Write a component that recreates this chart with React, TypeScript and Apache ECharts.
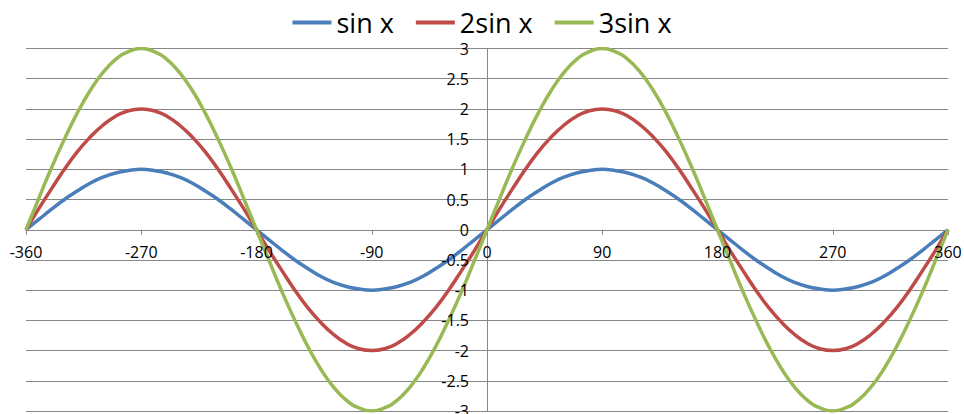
import React, { useEffect, useRef } from "react";
import * as echarts from "echarts";

const xValues = [
  -360, -350, -340, -330, -320, -310, -300, -290, -280, -270, -260, -250,
  -240, -230, -220, -210, -200, -190, -180, -170, -160, -150, -140, -130,
  -120, -110, -100, -90, -80, -70, -60, -50, -40, -30, -20, -10,
  0, 10, 20, 30, 40, 50, 60, 70, 80, 90, 100, 110,
  120, 130, 140, 150, 160, 170, 180, 190, 200, 210, 220, 230,
  240, 250, 260, 270, 280, 290, 300, 310, 320, 330, 340, 350, 360,
];

const sinX = [
  0, 0.17, 0.34, 0.5, 0.64, 0.77, 0.87, 0.94, 0.98, 1, 0.98, 0.94,
  0.87, 0.77, 0.64, 0.5, 0.34, 0.17, 0, -0.17, -0.34, -0.5, -0.64, -0.77,
  -0.87, -0.94, -0.98, -1, -0.98, -0.94, -0.87, -0.77, -0.64, -0.5, -0.34, -0.17,
  0, 0.17, 0.34, 0.5, 0.64, 0.77, 0.87, 0.94, 0.98, 1, 0.98, 0.94,
  0.87, 0.77, 0.64, 0.5, 0.34, 0.17, 0, -0.17, -0.34, -0.5, -0.64, -0.77,
  -0.87, -0.94, -0.98, -1, -0.98, -0.94, -0.87, -0.77, -0.64, -0.5, -0.34, -0.17, 0,
];

const twoSinX = [
  0, 0.35, 0.68, 1, 1.29, 1.53, 1.73, 1.88, 1.97, 2, 1.97, 1.88,
  1.73, 1.53, 1.29, 1, 0.68, 0.35, 0, -0.35, -0.68, -1, -1.29, -1.53,
  -1.73, -1.88, -1.97, -2, -1.97, -1.88, -1.73, -1.53, -1.29, -1, -0.68, -0.35,
  0, 0.35, 0.68, 1, 1.29, 1.53, 1.73, 1.88, 1.97, 2, 1.97, 1.88,
  1.73, 1.53, 1.29, 1, 0.68, 0.35, 0, -0.35, -0.68, -1, -1.29, -1.53,
  -1.73, -1.88, -1.97, -2, -1.97, -1.88, -1.73, -1.53, -1.29, -1, -0.68, -0.35, 0,
];

const threeSinX = [
  0, 0.52, 1.03, 1.5, 1.93, 2.3, 2.6, 2.82, 2.95, 3, 2.95, 2.82,
  2.6, 2.3, 1.93, 1.5, 1.03, 0.52, 0, -0.52, -1.03, -1.5, -1.93, -2.3,
  -2.6, -2.82, -2.95, -3, -2.95, -2.82, -2.6, -2.3, -1.93, -1.5, -1.03, -0.52,
  0, 0.52, 1.03, 1.5, 1.93, 2.3, 2.6, 2.82, 2.95, 3, 2.95, 2.82,
  2.6, 2.3, 1.93, 1.5, 1.03, 0.52, 0, -0.52, -1.03, -1.5, -1.93, -2.3,
  -2.6, -2.82, -2.95, -3, -2.95, -2.82, -2.6, -2.3, -1.93, -1.5, -1.03, -0.52, 0,
];

const seriesNames = ["sin x", "2sin x", "3sin x"];
const seriesColors = ["#4A7EBB", "#BE4B48", "#98B954"];
const seriesValues = [sinX, twoSinX, threeSinX];

const FONT = "'Open Sans', 'Noto Sans', sans-serif";
const GRAY = "#878787";

const GRID_LEFT = 26;
const GRID_RIGHT = 16;
const GRID_TOP = 48.5;
const GRID_BOTTOM = 3;
const W = 964;
const H = 414;

export default function App() {
  const ref = useRef<HTMLDivElement>(null);
  useEffect(() => {
    if (!ref.current) return;
    const chart = echarts.init(ref.current, null, { renderer: "svg" });
    const plotW = W - GRID_LEFT - GRID_RIGHT;
    const plotH = H - GRID_TOP - GRID_BOTTOM;
    // shift axes so they sit on the zero lines (labels included)
    const yAxisOffset = -(plotW * (0 - -360)) / 720;
    const xAxisOffset = -(plotH * (0 - -3)) / 6;

    const xBase = {
      type: "value",
      min: -360,
      max: 360,
      interval: 90,
      position: "bottom",
      offset: xAxisOffset,
    };
    const yBase = {
      type: "value",
      min: -3,
      max: 3,
      interval: 0.5,
      position: "left",
      offset: yAxisOffset,
    };
    const labelStyle = {
      fontFamily: FONT,
      fontSize: 16,
      color: "#000000",
      showMinLabel: true,
      showMaxLabel: true,
      hideOverlap: false,
    };

    chart.setOption({
      animation: false,
      backgroundColor: "#ffffff",
      textStyle: { fontFamily: FONT },
      legend: {
        top: 4,
        left: "center",
        icon: "rect",
        itemWidth: 39,
        itemHeight: 4,
        itemGap: 22,
        textStyle: { fontFamily: FONT, fontSize: 27, color: "#000000" },
        data: seriesNames,
      },
      grid: {
        left: GRID_LEFT,
        right: GRID_RIGHT,
        top: GRID_TOP,
        bottom: GRID_BOTTOM,
        containLabel: false,
        outerBoundsMode: "none",
      },
      xAxis: [
        {
          ...xBase,
          axisLine: { onZero: false, lineStyle: { color: GRAY, width: 1 } },
          axisTick: { show: true, length: 5, inside: false, lineStyle: { color: GRAY } },
          axisLabel: { show: false },
          splitLine: { show: false },
        },
        {
          ...xBase,
          z: 5,
          axisLine: { show: false, onZero: false },
          axisTick: { show: false },
          axisLabel: { margin: 14, ...labelStyle },
          splitLine: { show: false },
        },
      ],
      yAxis: [
        {
          ...yBase,
          axisLine: { show: true, onZero: false, lineStyle: { color: GRAY, width: 1 } },
          axisTick: { show: true, length: 5, lineStyle: { color: GRAY } },
          axisLabel: { show: false },
          splitLine: { show: true, lineStyle: { color: GRAY, width: 1 } },
        },
        {
          ...yBase,
          z: 5,
          axisLine: { show: false, onZero: false },
          axisTick: { show: false },
          axisLabel: { margin: 18, ...labelStyle },
          splitLine: { show: false },
        },
      ],
      series: seriesNames.map((name, i) => ({
        name,
        type: "line",
        xAxisIndex: 0,
        yAxisIndex: 0,
        smooth: true,
        symbol: "none",
        showSymbol: false,
        color: seriesColors[i],
        lineStyle: { color: seriesColors[i], width: 3.5 },
        data: xValues.map((x, j) => [x, seriesValues[i][j]]),
      })),
    });
    return () => chart.dispose();
  }, []);
  return (
    <div
      ref={ref}
      style={{ position: "absolute", left: 0, top: 0, width: W, height: H }}
    />
  );
}
